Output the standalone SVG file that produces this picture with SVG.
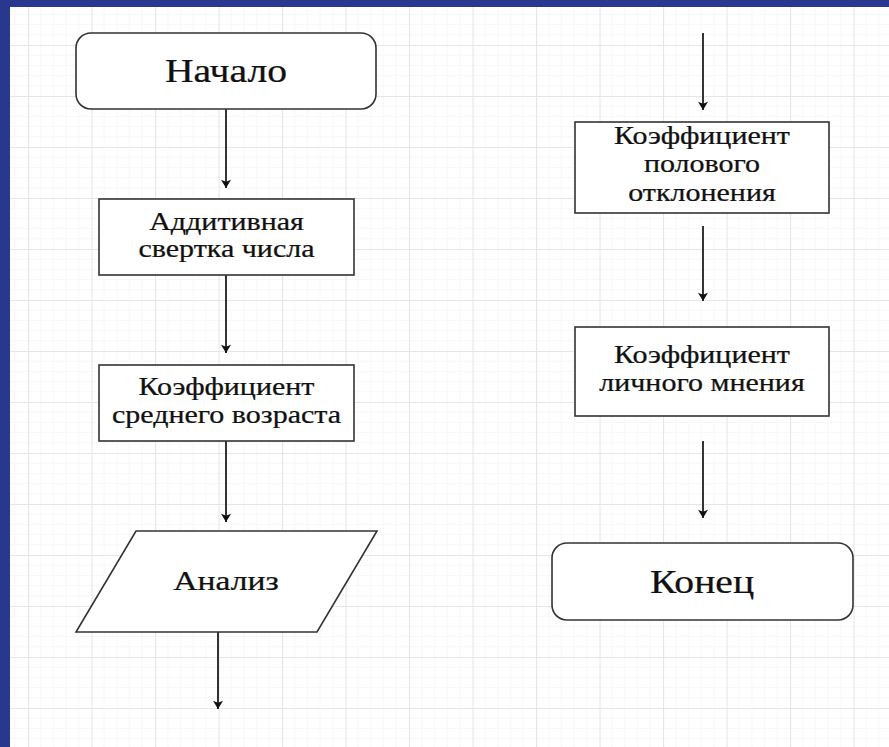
<svg xmlns="http://www.w3.org/2000/svg" width="889" height="747" viewBox="0 0 889 747">
<style>
.node{fill:#ffffff;stroke:#333333;stroke-width:1.6}
.t{font-family:'Liberation Serif','DejaVu Serif',serif;fill:#111111;stroke:#111111;stroke-width:0.25;text-anchor:middle}
.big{font-size:33px}
.sm{font-size:25px}
.conn line{stroke:#111111;stroke-width:1.7}
</style>
<defs>
<pattern id="grid" patternUnits="userSpaceOnUse" x="28" y="45" width="63.5" height="51">
<rect width="63.5" height="51" fill="#ffffff"/>
<path d="M12.7 0V51M25.4 0V51M38.1 0V51M50.8 0V51M0 10.2H63.5M0 20.4H63.5M0 30.6H63.5M0 40.8H63.5" stroke="#f8f8f8" stroke-width="1" fill="none"/>
<path d="M0.5 0V51M0 0.5H63.5" stroke="#e6e6e6" stroke-width="1.2" fill="none"/>
</pattern>
<marker id="ah" viewBox="0 0 10 12" refX="10" refY="6" markerWidth="12" markerHeight="10" markerUnits="userSpaceOnUse" orient="auto">
<path d="M0 0L10 6L0 12L2.5 6Z" fill="#111111"/>
</marker>
</defs>
<rect x="0" y="0" width="889" height="747" fill="#2a378f"/>
<rect x="10" y="7" width="879" height="740" fill="url(#grid)"/>
<g class="conn">
<line x1="226" y1="109" x2="226" y2="188" marker-end="url(#ah)"/>
<line x1="226" y1="275" x2="226" y2="353" marker-end="url(#ah)"/>
<line x1="226" y1="441" x2="226" y2="522" marker-end="url(#ah)"/>
<line x1="218" y1="632" x2="218" y2="709" marker-end="url(#ah)"/>
<line x1="703" y1="33" x2="703" y2="110" marker-end="url(#ah)"/>
<line x1="703" y1="226" x2="703" y2="301" marker-end="url(#ah)"/>
<line x1="703" y1="441" x2="703" y2="518" marker-end="url(#ah)"/>
</g>
<g id="start">
<rect class="node" x="76" y="33" width="300" height="76" rx="15"/>
<text class="t big" transform="translate(226,82) scale(1.2,1)">Начало</text>
</g>
<g id="additive">
<rect class="node" x="99" y="199" width="255" height="76"/>
<text class="t sm" transform="translate(226.5,230) scale(1.2,1)">Аддитивная</text>
<text class="t sm" transform="translate(226.5,257) scale(1.2,1)">свертка числа</text>
</g>
<g id="age">
<rect class="node" x="99" y="365" width="255" height="76"/>
<text class="t sm" transform="translate(226.5,395) scale(1.2,1)">Коэффициент</text>
<text class="t sm" transform="translate(226.5,423) scale(1.2,1)">среднего возраста</text>
</g>
<g id="analysis">
<polygon class="node" points="136,531 377,531 317,632 76,632"/>
<text class="t" font-size="28" transform="translate(226,590) scale(1.2,1)">Анализ</text>
</g>
<g id="gender">
<rect class="node" x="575" y="122" width="254" height="91"/>
<text class="t sm" transform="translate(702,144) scale(1.2,1)">Коэффициент</text>
<text class="t sm" transform="translate(702,172) scale(1.2,1)">полового</text>
<text class="t sm" transform="translate(702,201) scale(1.2,1)">отклонения</text>
</g>
<g id="opinion">
<rect class="node" x="575" y="327" width="254" height="89"/>
<text class="t sm" transform="translate(702,363) scale(1.2,1)">Коэффициент</text>
<text class="t sm" transform="translate(702,391) scale(1.2,1)">личного мнения</text>
</g>
<g id="end">
<rect class="node" x="552" y="543" width="301" height="77" rx="15"/>
<text class="t big" transform="translate(702,593) scale(1.2,1)">Конец</text>
</g>
</svg>
